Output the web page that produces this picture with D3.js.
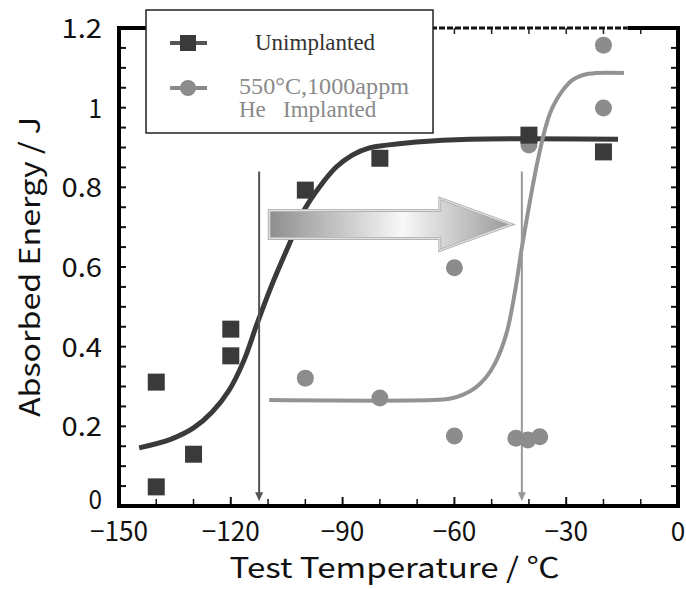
<!DOCTYPE html>
<html>
<head>
<meta charset="utf-8">
<script src="https://cdn.jsdelivr.net/npm/d3@7"></script>
<style>
  html, body { margin: 0; padding: 0; background: #fff; }
  svg { display: block; }
</style>
</head>
<body>
<svg id="chart"></svg>
<script>
// measured points, Unimplanted (temperature °C, energy J)
const unimplantedT = [-140, -140, -130, -120, -120, -100, -80, -40, -20]
const unimplantedE = [0.048, 0.311, 0.13, 0.444, 0.377, 0.793, 0.873, 0.931, 0.889]

// measured points, 550°C 1000appm He implanted
const implantedT = [-100, -80, -60, -60, -43.5, -40.3, -37.1, -40, -20, -20]
const implantedE = [0.321, 0.271, 0.598, 0.176, 0.17, 0.166, 0.174, 0.906, 1.157, 0.999]

// fitted curves
const fitUnT = [-144.6, -136, -130, -125, -120.5, -116.5, -112.9, -108.9, -103.5, -100.3, -96.2, -91.7, -87.4, -82.8, -78.2, -70.2, -55.9, -16.1]
const fitUnE = [0.146, 0.168, 0.196, 0.236, 0.29, 0.365, 0.459, 0.557, 0.675, 0.743, 0.801, 0.851, 0.881, 0.899, 0.906, 0.914, 0.921, 0.921]
const fitHeT = [-109.7, -66, -61, -57.8, -54.5, -51.5, -49, -46, -43.8, -41.7, -37.6, -35.2, -33.6, -30.9, -28.2, -24, -14.5]
const fitHeE = [0.266, 0.266, 0.27, 0.279, 0.296, 0.323, 0.36, 0.434, 0.535, 0.66, 0.869, 0.962, 1.002, 1.044, 1.07, 1.085, 1.087]

// transition temperatures (vertical arrows) and the shift arrow
const dbttT = [-112.4, -41.9]
const dbttTopE = 0.84
const dbttBottomE = 0.012
const shiftFromT = -109.7
const shiftToT = -44.6
const shiftE = 0.707

const xTicks = [-150, -120, -90, -60, -30, 0]
const yTicks = [0, 0.2, 0.4, 0.6, 0.8, 1, 1.2]
const yTickText = ["0", "0.2", "0.4", "0.6", "0.8", "1", "1.2"]

const width = 686
const height = 589
const margin = { top: 28, right: 8, bottom: 83, left: 119 }

const darkColor = "#3a3a3a"
const lightColor = "#8c8c8c"
const gothic = "'Noto Sans CJK JP', 'DejaVu Sans', sans-serif"

const svg = d3.select("#chart").attr("width", width).attr("height", height)

const x = d3.scaleLinear().domain([-150, 0]).range([margin.left, width - margin.right])
const y = d3.scaleLinear().domain([0, 1.2]).range([height - margin.bottom, margin.top])

const defs = svg.append("defs")
const grad = defs.append("linearGradient").attr("id", "shiftGrad")
  .attr("x1", "0%").attr("x2", "100%").attr("y1", "0%").attr("y2", "0%")
grad.append("stop").attr("offset", "0%").attr("stop-color", "#8e8e8e")
grad.append("stop").attr("offset", "55%").attr("stop-color", "#f8f8f8")
grad.append("stop").attr("offset", "100%").attr("stop-color", "#999")

// ticks, inward on all four sides
const axisG = svg.append("g")
const minorX = d3.range(-150, 1, 10)
const minorY = d3.range(0, 1.2001, 0.05)

axisG.selectAll(".tb").data(minorX.slice(1, -1)).join("line")
  .attr("x1", d => x(d)).attr("x2", d => x(d))
  .attr("y1", y(0)).attr("y2", d => y(0) - (d % 30 === 0 ? 9 : 7))
  .attr("stroke", "#111").attr("stroke-width", d => d % 30 === 0 ? 2 : 1.5)
axisG.selectAll(".tt").data(minorX.slice(1, -1)).join("line")
  .attr("x1", d => x(d)).attr("x2", d => x(d))
  .attr("y1", y(1.2)).attr("y2", y(1.2) + 6)
  .attr("stroke", "#222").attr("stroke-width", 1.5)
axisG.selectAll(".tl").data(minorY.slice(1, -1)).join("line")
  .attr("x1", x(-150)).attr("x2", x(-150) + 7)
  .attr("y1", d => y(d)).attr("y2", d => y(d))
  .attr("stroke", "#111").attr("stroke-width", 2)
axisG.selectAll(".tr").data(minorY.slice(1, -1)).join("line")
  .attr("x1", x(0)).attr("x2", x(0) - 7)
  .attr("y1", d => y(d)).attr("y2", d => y(d))
  .attr("stroke", "#111").attr("stroke-width", 2)

// frame: top edge is dashed except near the right corner
axisG.append("line")
  .attr("x1", x(-150)).attr("x2", x(-13.5)).attr("y1", y(1.2)).attr("y2", y(1.2))
  .attr("stroke", "#111").attr("stroke-width", 3).attr("stroke-dasharray", "6,2")
axisG.append("line")
  .attr("x1", x(-13.5)).attr("x2", x(0) + 2).attr("y1", y(1.2)).attr("y2", y(1.2))
  .attr("stroke", "#000").attr("stroke-width", 4)
axisG.append("line")
  .attr("x1", x(-150)).attr("x2", x(-141)).attr("y1", y(1.2)).attr("y2", y(1.2))
  .attr("stroke", "#000").attr("stroke-width", 4)
axisG.append("line")
  .attr("x1", x(0)).attr("x2", x(0)).attr("y1", y(1.2) - 2).attr("y2", y(0) + 2)
  .attr("stroke", "#000").attr("stroke-width", 4)
axisG.append("line")
  .attr("x1", x(-150)).attr("x2", x(-150)).attr("y1", y(1.2) - 2).attr("y2", y(0) + 2)
  .attr("stroke", "#000").attr("stroke-width", 4)
axisG.append("line")
  .attr("x1", x(-150) - 2).attr("x2", x(0) + 2).attr("y1", y(0)).attr("y2", y(0))
  .attr("stroke", "#000").attr("stroke-width", 4)

// tick labels
svg.append("g").selectAll("text").data(yTicks).join("text")
  .attr("x", x(-150) - 17).attr("y", d => y(d) + (d === 0 ? 3 : 10))
  .attr("text-anchor", "end")
  .attr("font-family", gothic).attr("font-size", 27).attr("fill", "#111")
  .attr("textLength", (d, i) => yTickText[i].length * 13.5)
  .attr("lengthAdjust", "spacingAndGlyphs")
  .text((d, i) => yTickText[i])

svg.append("g").selectAll("text").data(xTicks).join("text")
  .attr("x", d => x(d)).attr("y", y(0) + 35)
  .attr("text-anchor", "middle")
  .attr("font-family", gothic).attr("font-size", 27).attr("fill", "#111")
  .attr("textLength", d => (d === 0 ? 1 : String(d).length) * 14.5)
  .attr("lengthAdjust", "spacingAndGlyphs")
  .text(d => d === 0 ? "0" : "\u2212" + Math.abs(d))

// axis titles
svg.append("text")
  .attr("x", (x(-150) + x(0)) / 2 - 4).attr("y", height - 11)
  .attr("text-anchor", "middle")
  .attr("font-family", gothic).attr("font-size", 28).attr("fill", "#111")
  .attr("textLength", 330).attr("lengthAdjust", "spacingAndGlyphs")
  .text("Test Temperature / \u2103")

svg.append("text")
  .attr("transform", `translate(40 ${(y(0) + y(1.2)) / 2}) rotate(-90)`)
  .attr("text-anchor", "middle")
  .attr("font-family", gothic).attr("font-size", 28).attr("fill", "#111")
  .attr("textLength", 300).attr("lengthAdjust", "spacingAndGlyphs")
  .text("Absorbed Energy / J")

// fitted curves
const line = d3.line().x(d => x(d[0])).y(d => y(d[1])).curve(d3.curveCatmullRom.alpha(0.5))
svg.append("path")
  .datum(fitUnT.map((t, i) => [t, fitUnE[i]]))
  .attr("d", line).attr("fill", "none")
  .attr("stroke", darkColor).attr("stroke-width", 5)
svg.append("path")
  .datum(fitHeT.map((t, i) => [t, fitHeE[i]]))
  .attr("d", line).attr("fill", "none")
  .attr("stroke", "#939393").attr("stroke-width", 4)

// vertical arrows at the transition temperatures
dbttT.forEach((t, i) => {
  const c = i === 0 ? "#555" : "#999"
  const px = x(t)
  svg.append("line")
    .attr("x1", px).attr("x2", px).attr("y1", y(dbttTopE)).attr("y2", y(dbttBottomE) - 6)
    .attr("stroke", c).attr("stroke-width", 2)
  svg.append("path")
    .attr("d", `M${px - 4},${y(dbttBottomE) - 9} L${px + 4},${y(dbttBottomE) - 9} L${px},${y(dbttBottomE)} Z`)
    .attr("fill", c)
})

// big shift arrow
{
  const x0 = x(shiftFromT), x1 = x(shiftToT), cy = y(shiftE)
  const bh = 14, hh = 26, hl = 72
  const pts = [
    [x0, cy - bh], [x1 - hl, cy - bh], [x1 - hl, cy - hh], [x1, cy],
    [x1 - hl, cy + hh], [x1 - hl, cy + bh], [x0, cy + bh]
  ]
  svg.append("path")
    .attr("d", "M" + pts.join("L") + "Z")
    .attr("fill", "url(#shiftGrad)")
    .attr("stroke", "#b4b4b4").attr("stroke-width", 3).attr("stroke-linejoin", "miter")
  svg.append("path")
    .attr("d", "M" + pts.join("L") + "Z")
    .attr("fill", "none")
    .attr("stroke", "#e6e6e6").attr("stroke-width", 1)
}

// markers
const sq = 17
svg.append("g").selectAll("circle")
  .data(implantedT.map((t, i) => [t, implantedE[i]]))
  .join("circle")
  .attr("cx", d => x(d[0])).attr("cy", d => y(d[1])).attr("r", 8.5)
  .attr("fill", lightColor)
svg.append("g").selectAll("rect")
  .data(unimplantedT.map((t, i) => [t, unimplantedE[i]]))
  .join("rect")
  .attr("x", d => x(d[0]) - sq / 2).attr("y", d => y(d[1]) - sq / 2)
  .attr("width", sq).attr("height", sq)
  .attr("fill", darkColor)

// legend
const lg = svg.append("g")
lg.append("rect")
  .attr("x", 146).attr("y", 10).attr("width", 287).attr("height", 123)
  .attr("fill", "#fff").attr("stroke", "#222").attr("stroke-width", 1.5)
lg.append("line").attr("x1", 170).attr("x2", 207).attr("y1", 43).attr("y2", 43)
  .attr("stroke", "#555").attr("stroke-width", 4)
lg.append("rect").attr("x", 180).attr("y", 35).attr("width", 16).attr("height", 16)
  .attr("fill", darkColor)
lg.append("line").attr("x1", 170).attr("x2", 207).attr("y1", 88).attr("y2", 88)
  .attr("stroke", "#8a8a8a").attr("stroke-width", 4)
lg.append("circle").attr("cx", 188).attr("cy", 88).attr("r", 8)
  .attr("fill", lightColor)
lg.append("text").attr("x", 255).attr("y", 50)
  .attr("font-family", "'Liberation Serif', serif").attr("font-size", 23).attr("fill", "#333")
  .text("Unimplanted")
lg.append("text").attr("x", 239).attr("y", 94)
  .attr("font-family", "'Liberation Serif', serif").attr("font-size", 23).attr("fill", "#8a8a8a")
  .attr("textLength", 170).attr("lengthAdjust", "spacingAndGlyphs")
  .text("550\u00b0C,1000appm")
lg.append("text").attr("x", 239).attr("y", 117)
  .attr("font-family", "'Liberation Serif', serif").attr("font-size", 23).attr("fill", "#8a8a8a")
  .attr("xml:space", "preserve")
  .text("He   Implanted")
</script>
</body>
</html>
